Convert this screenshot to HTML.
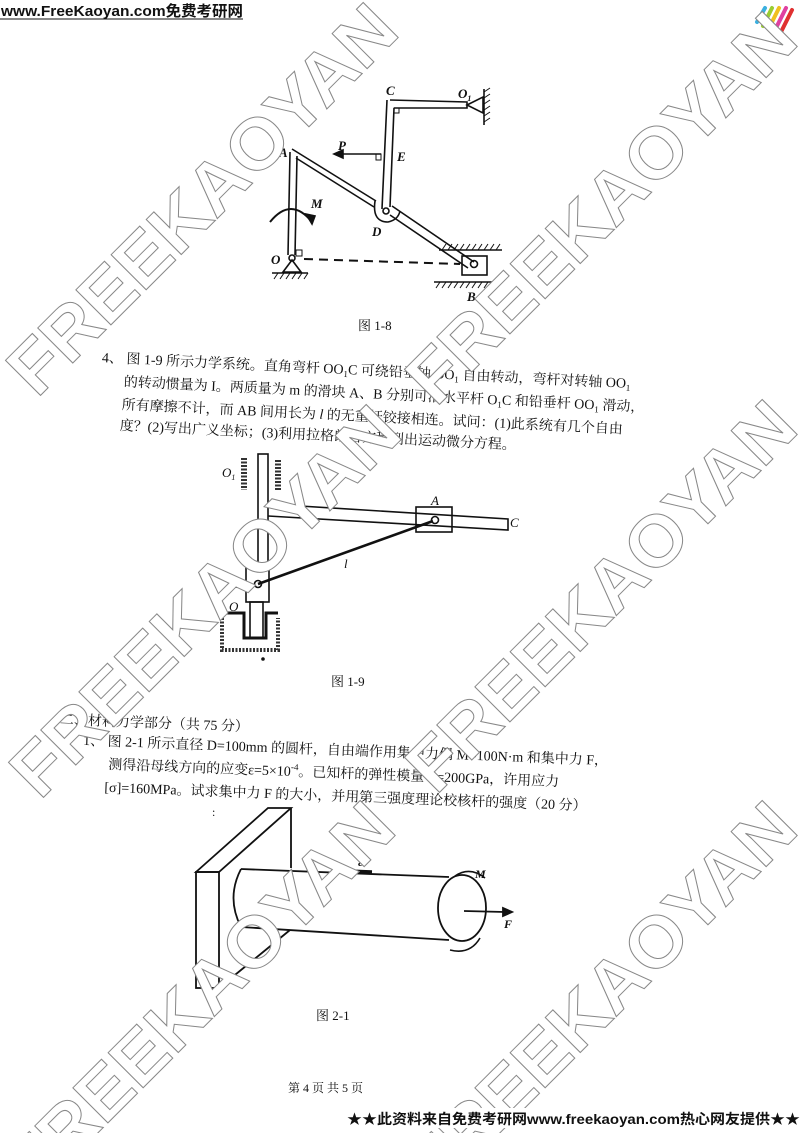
<!DOCTYPE html>
<html><head><meta charset="utf-8">
<style>
html,body{margin:0;padding:0;background:#fff;width:800px;height:1133px;overflow:hidden;}
svg{display:block;overflow:hidden;}
.t{font-family:"Liberation Serif","Noto Serif CJK SC","Noto Sans CJK SC",serif;fill:#111;}
.wm{font-family:"Liberation Sans",sans-serif;font-weight:bold;font-size:72px;fill:#fff;stroke:#888;stroke-width:1;}
</style></head>
<body>
<svg width="800" height="1133" viewBox="0 0 800 1133" xmlns="http://www.w3.org/2000/svg">
<text x="1" y="16" font-family="Liberation Sans,Noto Sans CJK SC,sans-serif" font-size="15" font-weight="bold" fill="#111" textLength="242" lengthAdjust="spacingAndGlyphs">www.FreeKaoyan.com免费考研网</text>
<line x1="0" y1="19" x2="243" y2="19" stroke="#111" stroke-width="1"/>
<g stroke-width="4" stroke-linecap="round">
<line x1="757" y1="22" x2="765" y2="8" stroke="#3bb0e0"/>
<line x1="763" y1="26" x2="772" y2="8" stroke="#9acd32"/>
<line x1="769" y1="28" x2="779" y2="8" stroke="#f0c020"/>
<line x1="775" y1="30" x2="786" y2="8" stroke="#e040a0"/>
<line x1="781" y1="32" x2="792" y2="10" stroke="#e03030"/>
</g>

<g stroke="#111" fill="none" stroke-width="1.6">
<line x1="484" y1="89" x2="484" y2="125"/>
<g stroke-width="1">
<line x1="484" y1="92" x2="490" y2="88"/><line x1="484" y1="98" x2="490" y2="94"/><line x1="484" y1="104" x2="490" y2="100"/><line x1="484" y1="110" x2="490" y2="106"/><line x1="484" y1="116" x2="490" y2="112"/><line x1="484" y1="122" x2="490" y2="118"/>
</g>
<path d="M467 105 L483 97 L483 113 Z"/>
<path d="M390 100 L467 102 L467 108 L394 108"/>
<path d="M387 100 L382 209 M394 108 L390 207"/>
<rect x="394" y="108" width="5" height="5" stroke-width="1"/>
<line x1="381" y1="154" x2="340" y2="154"/>
<path d="M334 154 L343 150 L343 158 Z" fill="#111"/>
<rect x="376" y="154" width="5" height="6" stroke-width="1"/>
<path d="M290 152 L288 255 M297 156 L295 255"/>
<path d="M292 149 L376 201 M296 158 L374 207"/>
<path d="M375 201 Q372 222 388 222 Q398 220 400 211"/>
<circle cx="386" cy="211" r="3"/>
<path d="M392 206 L474 262 M390 215 L468 268"/>
<rect x="462" y="256" width="25" height="19"/>
<circle cx="474" cy="264" r="3.5"/>
<line x1="439" y1="250" x2="502" y2="250"/>
<line x1="434" y1="282" x2="502" y2="282"/>
<g stroke-width="1">
<path d="M442 250 l4 -6 M448 250 l4 -6 M454 250 l4 -6 M460 250 l4 -6 M466 250 l4 -6 M472 250 l4 -6 M478 250 l4 -6 M484 250 l4 -6 M490 250 l4 -6 M496 250 l4 -6"/>
<path d="M436 288 l4 -6 M442 288 l4 -6 M448 288 l4 -6 M454 288 l4 -6 M460 288 l4 -6 M466 288 l4 -6 M472 288 l4 -6 M478 288 l4 -6 M484 288 l4 -6 M490 288 l4 -6 M496 288 l4 -6"/>
</g>
<circle cx="292" cy="258" r="3"/>
<path d="M292 260 L283 272 L301 272 Z"/>
<line x1="272" y1="273" x2="308" y2="273"/>
<path stroke-width="1" d="M274 279 l4 -6 M280 279 l4 -6 M286 279 l4 -6 M292 279 l4 -6 M298 279 l4 -6 M304 279 l4 -6"/>
<rect x="296" y="250" width="6" height="6" stroke-width="1"/>
<line x1="304" y1="259" x2="460" y2="264" stroke-dasharray="9,6" stroke-width="2"/>
<path d="M270 222 Q291 196 312 222" stroke-width="2"/>
<path d="M312 224 L306 214 L315 216 Z" fill="#111"/>
</g>
<g class="t" font-style="italic" font-weight="bold" font-size="13">
<text x="386" y="95">C</text><text x="458" y="98">O<tspan font-size="8" dy="3">1</tspan></text>
<text x="338" y="150">P</text><text x="397" y="161">E</text>
<text x="279" y="157">A</text><text x="311" y="208">M</text>
<text x="372" y="236">D</text><text x="271" y="264">O</text><text x="467" y="301">B</text>
</g>
<text class="t" x="358" y="330" font-size="13">图 1-8</text>

<g class="t" font-size="14" transform="rotate(2.8 100 357)">
<text x="102" y="362">4、 图 1-9 所示力学系统。直角弯杆 OO<tspan font-size="9" dy="3">1</tspan><tspan dy="-3">C 可绕铅垂轴 OO</tspan><tspan font-size="9" dy="3">1</tspan><tspan dy="-3"> 自由转动，弯杆对转轴 OO</tspan><tspan font-size="9" dy="3">1</tspan></text>
<text x="125" y="385">的转动惯量为 I。两质量为 m 的滑块 A、B 分别可沿水平杆 O<tspan font-size="9" dy="3">1</tspan><tspan dy="-3">C 和铅垂杆 OO</tspan><tspan font-size="9" dy="3">1</tspan><tspan dy="-3"> 滑动，</tspan></text>
<text x="124" y="408">所有摩擦不计，而 AB 间用长为 <tspan font-style="italic">l</tspan> 的无重杆铰接相连。试问：(1)此系统有几个自由</text>
<text x="123" y="429">度？(2)写出广义坐标；(3)利用拉格朗日方程列出运动微分方程。</text>
</g>

<g stroke="#111" fill="none" stroke-width="1.6">
<rect x="258" y="454" width="10" height="110"/>
<path d="M244 458 V490 M278 460 V490" stroke-width="6" stroke="#333" stroke-dasharray="2,1.5"/>
<path d="M268 504 L508 519 L508 530 L268 516"/>
<rect x="416" y="507" width="36" height="25"/>
<circle cx="435" cy="520" r="3.5"/>
<line x1="258" y1="584" x2="433" y2="521" stroke-width="2.6"/>
<rect x="246" y="564" width="23" height="38"/>
<circle cx="258" cy="584" r="3.5"/>
<rect x="250" y="602" width="13" height="36"/>
<path d="M220 613 H244 V638 H266 V613 H278" stroke-width="3"/>
<path d="M222 618 V650 H278 V618" stroke-width="4" stroke="#333" stroke-dasharray="2,1.5"/>
<circle cx="263" cy="659" r="1" fill="#111"/>
</g>
<g class="t" font-style="italic" font-size="13">
<text x="222" y="477">O<tspan font-size="8" dy="3">1</tspan></text>
<text x="431" y="505">A</text><text x="510" y="527">C</text>
<text x="344" y="568">l</text><text x="231" y="588">B</text><text x="229" y="611">O</text>
</g>
<text class="t" x="331" y="686" font-size="13">图 1-9</text>

<g class="t" font-size="14" transform="rotate(2.2 60 719)">
<text x="60" y="724">二、材料力学部分（共 75 分）</text>
<text x="84" y="744">1、 图 2-1 所示直径 D=100mm 的圆杆，自由端作用集中力偶 M=100N·m 和集中力 F，</text>
<text x="110" y="767">测得沿母线方向的应变ε=5×10<tspan font-size="9" dy="-6">-4</tspan><tspan dy="6">。已知杆的弹性模量  E=200GPa，许用应力</tspan></text>
<text x="107" y="790">[σ]=160MPa。试求集中力 F 的大小，并用第三强度理论校核杆的强度（20 分）</text>
</g>
<text class="t" x="212" y="816" font-size="12">:</text>

<g stroke="#111" fill="none" stroke-width="1.8">
<path d="M196 872 L268 808 L291 808 L219 872 Z"/>
<rect x="196" y="872" width="23" height="116"/>
<path d="M291 808 L291 868 M219 988 L290 930"/>
<path d="M241 869 L449 877 M241 927 L449 940"/>
<path d="M241 869 Q226 898 241 927"/>
<ellipse cx="462" cy="908" rx="24" ry="33"/>
<path d="M347 871 L372 872" stroke-width="3.5"/>
<path d="M455 876 Q470 866 485 878" stroke-width="1.6"/>
<path d="M480 938 Q470 955 450 950" stroke-width="1.6"/>
<line x1="464" y1="911" x2="505" y2="912"/>
<path d="M512 912 L503 908 L503 916 Z" fill="#111"/>
</g>
<g class="t" font-style="italic" font-weight="bold" font-size="12">
<text x="358" y="866">ε</text><text x="475" y="878">M</text><text x="504" y="928">F</text>
</g>
<text class="t" x="316" y="1020" font-size="13">图 2-1</text>

<text class="t" x="288" y="1092" font-size="12">第 4 页  共 5 页</text>

<g class="wm">
<text transform="translate(201,198) rotate(-45)" x="-258" y="26" textLength="516" lengthAdjust="spacingAndGlyphs">FREEKAOYAN</text>
<text transform="translate(600,207) rotate(-45)" x="-258" y="26" textLength="516" lengthAdjust="spacingAndGlyphs">FREEKAOYAN</text>
<text transform="translate(204,600) rotate(-45)" x="-258" y="26" textLength="516" lengthAdjust="spacingAndGlyphs">FREEKAOYAN</text>
<text transform="translate(600,595) rotate(-45)" x="-258" y="26" textLength="516" lengthAdjust="spacingAndGlyphs">FREEKAOYAN</text>
<text transform="translate(198,996) rotate(-45)" x="-258" y="26" textLength="516" lengthAdjust="spacingAndGlyphs">FREEKAOYAN</text>
<text transform="translate(600,996) rotate(-45)" x="-258" y="26" textLength="516" lengthAdjust="spacingAndGlyphs">FREEKAOYAN</text>
</g>

<rect x="345" y="1108" width="455" height="20" fill="#fff"/>
<text x="347" y="1124" font-family="Liberation Sans,Noto Sans CJK SC,sans-serif" font-size="14" font-weight="bold" fill="#111" textLength="453" lengthAdjust="spacingAndGlyphs">★★此资料来自免费考研网www.freekaoyan.com热心网友提供★★</text>
</svg>
</body></html>
